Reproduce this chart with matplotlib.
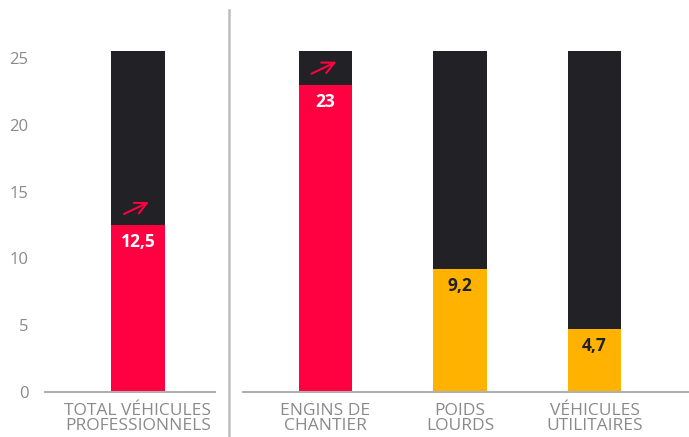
import matplotlib.pyplot as plt
from matplotlib.lines import Line2D
from matplotlib.transforms import offset_copy

# data
total_label = ["TOTAL VÉHICULES\nPROFESSIONNELS"]
total_value = [12.5]
cat_labels = ["ENGINS DE\nCHANTIER", "POIDS\nLOURDS", "VÉHICULES\nUTILITAIRES"]
cat_values = [23, 9.2, 4.7]
cat_colors = ["#FF0040", "#FFB300", "#FFB300"]
label_colors = ["white", "#222226", "#222226"]
full_scale = 25.5
yticks = [0, 5, 10, 15, 20, 25]

RED = "#FF0040"
DARK = "#212126"
GRAY = "#8a8a8a"
AXIS = "#b0b0b0"

W, H = 689, 437
fig = plt.figure(figsize=(W / 100, H / 100), dpi=100)
plt.rcParams['font.family'] = ['Open Sans', 'DejaVu Sans']

unit = 134.5  # px per category
px_per_val = 13.36
base_y = 392
top_y = 10
ymax = (base_y - top_y) / px_per_val


def make_ax(x0, x1, zero_px):
    ax = fig.add_axes([x0 / W, (H - base_y) / H, (x1 - x0) / W, (base_y - top_y) / H])
    ax.set_xlim(-zero_px / unit, (x1 - x0 - zero_px) / unit)
    ax.set_ylim(0, ymax)
    for s in ["top", "right", "left"]:
        ax.spines[s].set_visible(False)
    ax.spines["bottom"].set_color(AXIS)
    ax.spines["bottom"].set_linewidth(1.5)
    ax.tick_params(axis="x", length=0, pad=8, labelsize=12.5, labelcolor=GRAY)
    return ax


def draw(ax, values, colors, lcolors, labels, arrows):
    xs = list(range(len(values)))
    ax.bar(xs, [full_scale] * len(xs), width=0.4, color=DARK, zorder=1)
    ax.bar(xs, values, width=0.4, color=colors, zorder=2)
    ax.set_xticks(xs)
    ax.set_xticklabels(labels, linespacing=0.92)
    for x, v, c in zip(xs, values, lcolors):
        t = offset_copy(ax.transData, fig=fig, x=0, y=-17, units='dots')
        ax.text(x, v, f"{v:g}".replace(".", ","), transform=t, ha="center", va="center",
                color=c, fontsize=12.5, fontweight="bold", zorder=3)
    for x, v, a in zip(xs, values, arrows):
        if not a:
            continue
        head = offset_copy(ax.transData, fig=fig, x=11, y=23, units='dots')
        ax.annotate("", xy=(x, v), xycoords=head,
                    xytext=(-25 * 0.72, -12 * 0.72), textcoords="offset points",
                    arrowprops=dict(arrowstyle="->,head_length=0.85,head_width=0.42",
                                    color=RED, lw=1.5, shrinkA=0, shrinkB=0), zorder=4)


ax1 = make_ax(45, 215, 93)
ax1.set_yticks(yticks)
ax1.tick_params(axis="y", length=0, pad=12, labelsize=12, labelcolor=GRAY)
draw(ax1, total_value, [RED], ["white"], total_label, [True])

ax2 = make_ax(243, 689, 82.5)
ax2.set_yticks([])
draw(ax2, cat_values, cat_colors, label_colors, cat_labels, [True, False, False])

# divider between the two panels
fig.add_artist(Line2D([229 / W, 229 / W], [0, 1 - 10 / H], color="#bdbdbd", lw=1.8))

fig.savefig("out.png", dpi=100)
